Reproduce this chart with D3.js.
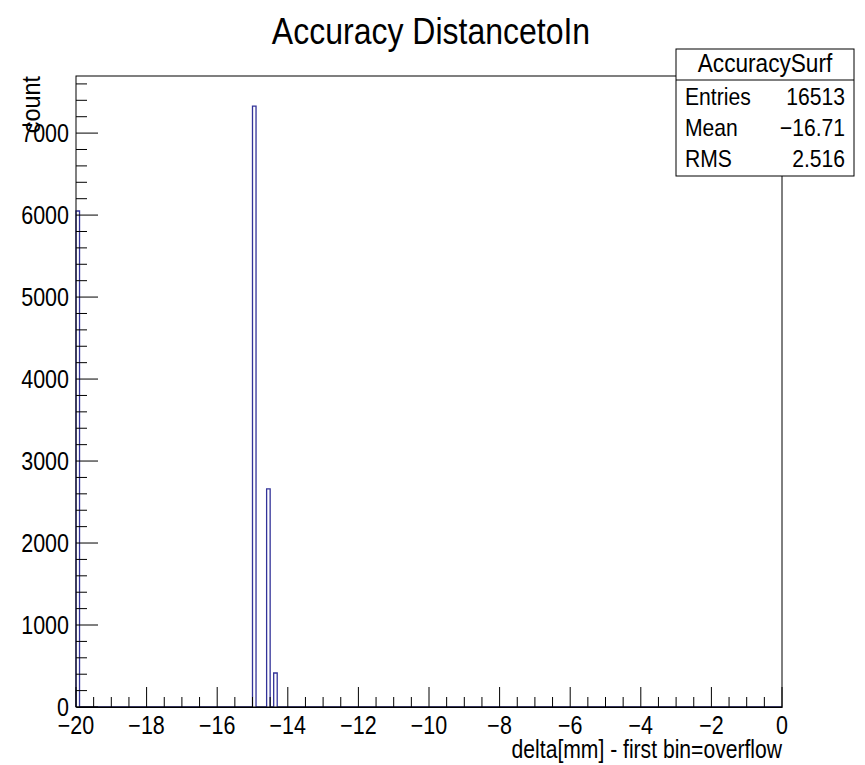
<!DOCTYPE html>
<html>
<head>
<meta charset="utf-8">
<script src="https://cdn.jsdelivr.net/npm/d3@7"></script>
<style>
  html, body { margin: 0; padding: 0; background: #fff; }
  svg text { font-family: "Liberation Sans", Arial, Helvetica, sans-serif; fill: #000; }
</style>
</head>
<body>
<svg id="chart" width="865" height="765"></svg>
<script>
// Histogram "AccuracySurf": 200 bins of 0.1 mm between -20 and 0.
const histTitle = "Accuracy DistancetoIn";
const histName = "AccuracySurf";
const xRange = [-20, 0];
const binWidth = 0.1;
// Lower edges of the non-empty bins and their counts (first bin holds the overflow)
const binLowEdges = [-20.0, -15.0, -14.6, -14.4];
const binCounts = [6050, 7330, 2660, 415];
const statLabels = ["Entries", "Mean", "RMS"];
const statValues = ["16513", "\u221216.71", "2.516"];
const xTickValues = [-20, -18, -16, -14, -12, -10, -8, -6, -4, -2, 0];
const yTickValues = [0, 1000, 2000, 3000, 4000, 5000, 6000, 7000];
const xTitle = "delta[mm] - first bin=overflow";
const yTitle = "count";

const svg = d3.select("#chart");
const frame = { left: 76, right: 782, top: 76, bottom: 707 };
const lineColor = "#333399";
const condense = 0.86;

const x = d3.scaleLinear().domain(xRange).range([frame.left, frame.right]);
const yMax = d3.max(binCounts) * 1.05;
const y = d3.scaleLinear().domain([0, yMax]).range([frame.bottom, frame.top]);

// helper to place horizontally condensed text
function label(g, txt, px, py, size, anchor, sx) {
  const s = sx || condense;
  return g.append("text")
    .attr("transform", `translate(${px},${py}) scale(${s},1)`)
    .attr("text-anchor", anchor)
    .attr("font-size", size)
    .text(txt);
}

// histogram outline: step path running along the baseline and up over each filled bin
const order = d3.range(binLowEdges.length).sort((a, b) => binLowEdges[a] - binLowEdges[b]);
const pts = [[xRange[0], 0]];
order.forEach(i => {
  const lo = binLowEdges[i], hi = lo + binWidth;
  pts.push([lo, 0], [lo, binCounts[i]], [hi, binCounts[i]], [hi, 0]);
});
pts.push([xRange[1], 0]);
svg.append("path")
  .attr("d", d3.line().x(d => x(d[0])).y(d => y(d[1]))(pts))
  .attr("fill", "none")
  .attr("stroke", lineColor)
  .attr("stroke-width", 1.3);

// frame
svg.append("rect")
  .attr("x", frame.left).attr("y", frame.top)
  .attr("width", frame.right - frame.left).attr("height", frame.bottom - frame.top)
  .attr("fill", "none").attr("stroke", "#000").attr("stroke-width", 1);

// x axis ticks: majors every 2, minors every 0.5
const xAxis = d3.axisBottom(x).tickValues(xTickValues).tickSize(0).tickFormat("");
const xAxisG = svg.append("g").attr("transform", `translate(0,${frame.bottom})`).call(xAxis);
xAxisG.select(".domain").attr("stroke", "#000");
const xMinor = d3.range(-20, 0.001, 0.5);
svg.append("g").selectAll("line").data(xMinor).join("line")
  .attr("x1", d => x(d)).attr("x2", d => x(d))
  .attr("y1", frame.bottom)
  .attr("y2", d => frame.bottom - (Math.abs(d % 2) < 1e-6 ? 20 : 10))
  .attr("stroke", "#000").attr("stroke-width", 1);
const xl = svg.append("g");
xTickValues.forEach(v => {
  label(xl, v < 0 ? "\u2212" + Math.abs(v) : String(v), x(v), 734, 25, "middle");
});

// y axis ticks: majors every 1000, minors every 200
const yMinor = d3.range(0, yMax, 200);
svg.append("g").selectAll("line").data(yMinor).join("line")
  .attr("x1", frame.left)
  .attr("x2", d => frame.left + (d % 1000 === 0 ? 22 : 11))
  .attr("y1", d => y(d)).attr("y2", d => y(d))
  .attr("stroke", "#000").attr("stroke-width", 1);
const yl = svg.append("g");
yTickValues.forEach(v => {
  label(yl, String(v), 69, y(v) + 9, 25, "end");
});

// axis titles
label(svg, xTitle, frame.right, 758, 25, "end", 0.845);
svg.append("text")
  .attr("transform", `translate(40,${frame.top}) rotate(-90) scale(0.9,1)`)
  .attr("text-anchor", "end")
  .attr("font-size", 26)
  .text(yTitle);

// title
label(svg, histTitle, 431, 44, 37, "middle", 0.865);

// statistics box
const box = { x0: 676, x1: 854, y0: 49, ySep: 80, y1: 176 };
svg.append("rect")
  .attr("x", box.x0).attr("y", box.y0)
  .attr("width", box.x1 - box.x0).attr("height", box.y1 - box.y0)
  .attr("fill", "#fff").attr("stroke", "#000").attr("stroke-width", 1);
svg.append("line")
  .attr("x1", box.x0).attr("x2", box.x1).attr("y1", box.ySep).attr("y2", box.ySep)
  .attr("stroke", "#000");
label(svg, histName, (box.x0 + box.x1) / 2, 72, 26, "middle", 0.87);
statLabels.forEach((s, i) => {
  const by = 105 + i * 30.8;
  label(svg, s, box.x0 + 9, by, 24, "start", 0.88);
  label(svg, statValues[i], box.x1 - 9, by, 24, "end", 0.88);
});
</script>
</body>
</html>
